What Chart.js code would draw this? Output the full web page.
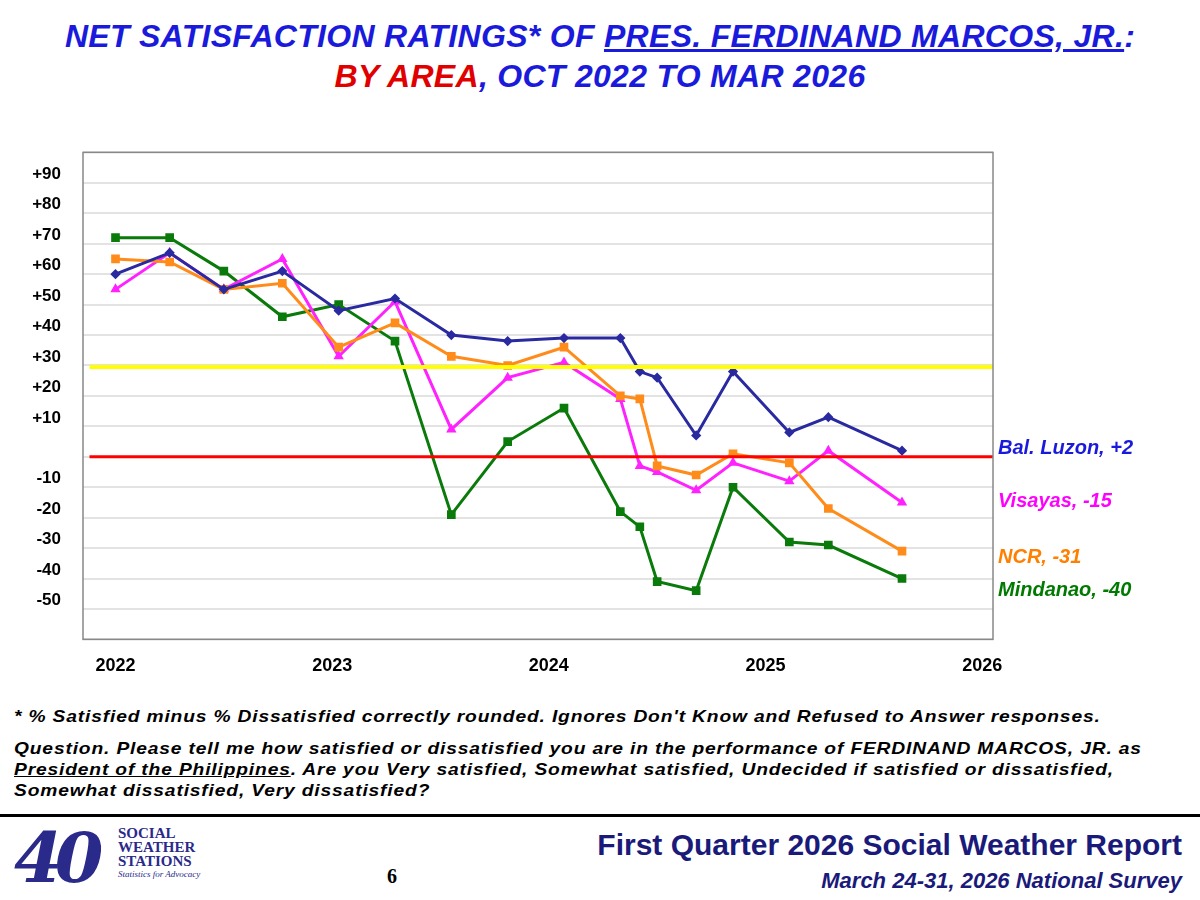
<!DOCTYPE html>
<html>
<head>
<meta charset="utf-8">
<script src="https://cdn.jsdelivr.net/npm/chart.js@4"></script>
<style>
body { margin:0; width:1200px; height:900px; background:#fff; font-family:Arial, "Liberation Sans", sans-serif; position:relative; overflow:hidden; }
.t { position:absolute; font-style:italic; font-weight:bold; }
#title { left:0; width:1200px; top:16px; text-align:center; color:#1a1adc; font-size:32px; line-height:40px; letter-spacing:0.3px; }
#wrap { position:absolute; left:0; top:110px; width:1200px; height:575px; }
.lab { position:absolute; font-size:20px; font-style:italic; font-weight:bold; }
.note { position:absolute; left:14px; font-size:17px; font-style:italic; font-weight:bold; color:#000; line-height:21px; letter-spacing:0.75px; white-space:nowrap; transform:scaleX(1.13); transform-origin:left top; }
</style>
</head>
<body>
<div class="t" id="title">NET SATISFACTION RATINGS* OF <u>PRES. FERDINAND MARCOS, JR.</u>:<br><span style="color:#e00000">BY AREA</span>, OCT 2022 TO MAR 2026</div>
<div id="wrap"><canvas id="c" width="1200" height="575"></canvas></div>
<div class="lab" style="left:998px;top:436px;color:#1a1adc">Bal. Luzon, +2</div>
<div class="lab" style="left:998px;top:489px;color:#ff00ff">Visayas, -15</div>
<div class="lab" style="left:998px;top:545px;color:#ff8000">NCR, -31</div>
<div class="lab" style="left:998px;top:578px;color:#007a00">Mindanao, -40</div>
<div class="note" style="top:706px">* % Satisfied minus % Dissatisfied correctly rounded. Ignores Don't Know and Refused to Answer responses.</div>
<div class="note" style="top:738px">Question. Please tell me how satisfied or dissatisfied you are in the performance of FERDINAND MARCOS, JR. as<br><u>President of the Philippines</u>. Are you Very satisfied, Somewhat satisfied, Undecided if satisfied or dissatisfied,<br>Somewhat dissatisfied, Very dissatisfied?</div>
<div style="position:absolute;left:0;top:814px;width:1200px;height:3px;background:#000"></div>
<div class="t" style="left:14px;top:820px;font-size:70px;line-height:76px;color:#2a2a8a;letter-spacing:-8px;font-family:'DejaVu Serif',serif">40</div>
<div style="position:absolute;left:118px;top:826px;color:#2a2a8a;font-weight:bold;font-size:15px;line-height:14px;font-family:'Liberation Serif',serif">SOCIAL<br>WEATHER<br>STATIONS</div>
<div style="position:absolute;left:118px;top:869px;color:#2a2a8a;font-style:italic;font-size:9px;font-family:'Liberation Serif',serif">Statistics for Advocacy</div>
<div style="position:absolute;left:387px;top:865px;font-size:20px;font-weight:bold;font-family:'Liberation Serif',serif">6</div>
<div style="position:absolute;right:18px;top:828px;color:#1a1a7a;font-weight:bold;font-size:30px">First Quarter 2026 Social Weather Report</div>
<div class="t" style="right:18px;top:868px;color:#1a1a7a;font-size:22px">March 24-31, 2026 National Survey</div>
<script>
const surveyDates = [2022.0, 2022.25, 2022.5, 2022.77, 2023.03, 2023.29, 2023.55, 2023.81, 2024.07, 2024.33, 2024.42, 2024.5, 2024.68, 2024.85, 2025.11, 2025.29, 2025.63];
const balLuzon = [60, 67, 55, 61, 48, 52, 40, 38, 39, 39, 28, 26, 7, 28, 8, 13, 2];
const visayas = [55, 67, 55, 65, 33, 51, 9, 26, 31, 19, -3, -5, -11, -2, -8, 2, -15];
const ncr = [65, 64, 55, 57, 36, 44, 33, 30, 36, 20, 19, -3, -6, 1, -2, -17, -31];
const mindanao = [72, 72, 61, 46, 50, 38, -19, 5, 16, -18, -23, -41, -44, -10, -28, -29, -40];
const yearTicks = [2022, 2023, 2024, 2025, 2026];
const refLine = 29.5;

function pts(vals) { return vals.map((v, i) => ({ x: surveyDates[i], y: v })); }
function series(label, vals, color, style, size) {
  return { label, data: pts(vals), borderColor: color, backgroundColor: color, borderWidth: 3,
    pointStyle: style, pointRadius: size, pointHoverRadius: size, tension: 0 };
}
const xMin = 2021.85, xMax = 2026.05;

const boxPlugin = {
  id: 'box',
  afterDraw(chart) {
    const a = chart.chartArea, ctx = chart.ctx;
    ctx.save(); ctx.strokeStyle = '#888'; ctx.lineWidth = 1.5;
    ctx.strokeRect(a.left, a.top, a.right - a.left, a.bottom - a.top); ctx.restore();
  }
};

new Chart(document.getElementById('c'), {
  type: 'line',
  data: { datasets: [
    { label: 'ref', data: [{ x: 2021.88, y: refLine }, { x: xMax, y: refLine }], borderColor: '#ffff00', borderWidth: 4, pointRadius: 0 },
    { label: 'zero', data: [{ x: 2021.88, y: 0 }, { x: xMax, y: 0 }], borderColor: '#ff0000', borderWidth: 3, pointRadius: 0 },
    series('Bal. Luzon', balLuzon, '#2a2aa0', 'rectRot', 3),
    series('NCR', ncr, '#ff8c1a', 'rect', 4),
    series('Visayas', visayas, '#ff22ff', 'triangle', 3),
    series('Mindanao', mindanao, '#0a7a0a', 'rect', 4)
  ] },
  options: {
    responsive: false, animation: false,
    layout: { padding: { top: 2, right: 207 } },
    plugins: { legend: { display: false }, tooltip: { enabled: false } },
    scales: {
      x: { type: 'linear', min: xMin, max: xMax,
        afterBuildTicks(s) { s.ticks = yearTicks.map(v => ({ value: v })); },
        grid: { display: false }, border: { display: false },
        ticks: { color: '#000', font: { size: 18, weight: 'bold', family: 'Arial' }, callback: v => String(v), padding: 8 } },
      y: { min: -60, max: 100,
        afterFit(s) { s.width = 83; },
        grid: { color: '#e3e3e3', lineWidth: 2, drawTicks: false }, border: { display: false },
        ticks: { stepSize: 10, color: '#000', align: 'end', padding: 22, font: { size: 17, weight: 'bold', family: 'Arial' },
          callback: v => (v === 0 || v === 100 || v === -60) ? '' : (v > 0 ? '+' + v : String(v)) } }
    }
  },
  plugins: [boxPlugin]
});
</script>
</body>
</html>
